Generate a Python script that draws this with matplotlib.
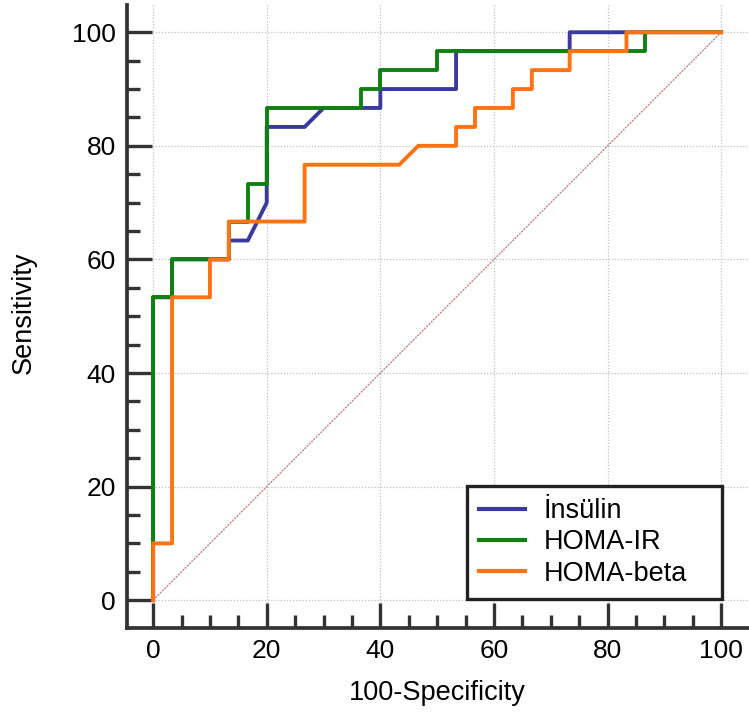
import matplotlib
matplotlib.use("Agg")
import matplotlib.pyplot as plt
from matplotlib.ticker import MultipleLocator

plt.rcParams["font.family"] = ["Liberation Sans", "DejaVu Sans"]

# ROC curve points (100-Specificity, Sensitivity)
insulin_x = [0, 0, 3.33, 3.33, 13.33, 13.33, 16.67, 20, 20, 26.67, 30, 40, 40,
             53.33, 53.33, 73.33, 73.33, 100]
insulin_y = [0, 53.33, 53.33, 60, 60, 63.33, 63.33, 70, 83.33, 83.33, 86.67, 86.67, 90,
             90, 96.67, 96.67, 100, 100]

homa_ir_x = [0, 0, 3.33, 3.33, 13.33, 13.33, 16.67, 16.67, 20, 20, 36.67, 36.67, 40, 40,
             50, 50, 86.67, 86.67, 100]
homa_ir_y = [0, 53.33, 53.33, 60, 60, 66.67, 66.67, 73.33, 73.33, 86.67, 86.67, 90, 90, 93.33,
             93.33, 96.67, 96.67, 100, 100]

homa_beta_x = [0, 0, 3.33, 3.33, 10, 10, 13.33, 13.33, 26.67, 26.67, 43.33, 46.67, 53.33,
               53.33, 56.67, 56.67, 63.33, 63.33, 66.67, 66.67, 73.33, 73.33, 83.33, 83.33, 100]
homa_beta_y = [0, 10, 10, 53.33, 53.33, 60, 60, 66.67, 66.67, 76.67, 76.67, 80, 80,
               83.33, 83.33, 86.67, 86.67, 90, 90, 93.33, 93.33, 96.67, 96.67, 100, 100]

labels = ["İnsülin", "HOMA-IR", "HOMA-beta"]
colors = ["#3a3a9e", "#108010", "#ff7314"]

fig = plt.figure(figsize=(7.49, 7.2), dpi=100)
ax = fig.add_axes([127 / 749, 92 / 720, 622 / 749, 623 / 720])

# reference diagonal
ax.plot([0, 100], [0, 100], color="#c98080", lw=1.0, ls=(0, (1.5, 0.8)), zorder=2)

ax.plot(insulin_x, insulin_y, color=colors[0], lw=2.8, label=labels[0], zorder=3)
ax.plot(homa_ir_x, homa_ir_y, color=colors[1], lw=2.8, label=labels[1], zorder=4)
ax.plot(homa_beta_x, homa_beta_y, color=colors[2], lw=2.8, label=labels[2], zorder=5)

ax.set_xlim(-4.6, 104.9)
ax.set_ylim(-4.9, 104.8)

ax.xaxis.set_major_locator(MultipleLocator(20))
ax.yaxis.set_major_locator(MultipleLocator(20))
ax.xaxis.set_minor_locator(MultipleLocator(5))
ax.yaxis.set_minor_locator(MultipleLocator(5))

ax.grid(True, which="major", color="#c0c0c0", ls=(0, (1, 1.5)), lw=0.9, zorder=1)

for side in ["top", "right"]:
    ax.spines[side].set_visible(False)
for side in ["left", "bottom"]:
    ax.spines[side].set_color("#333333")
    ax.spines[side].set_linewidth(2.7)

ax.tick_params(which="major", direction="in", length=18, width=2.4, color="#333333",
               labelsize=19, pad=8)
ax.tick_params(which="minor", direction="in", length=9.5, width=2.4, color="#333333")

ax.set_xlabel("100-Specificity", fontsize=19.5)
ax.set_ylabel("Sensitivity", fontsize=19.5)
ax.xaxis.set_label_coords((437 - 127) / 622, (628 - 693) / 623)
ax.yaxis.set_label_coords((24 - 127) / 622, (628 - 313) / 623)
ax.xaxis.label.set_va("center")
ax.yaxis.label.set_va("center")

# legend box spans x 467..722 px, bottom at y 599 px
leg = ax.legend(loc="lower left",
                bbox_to_anchor=((467 - 127) / 622, (628 - 599) / 623, (722 - 467) / 622, 0.18),
                mode="expand", borderaxespad=0,
                fontsize=19.5, fancybox=False, framealpha=1, edgecolor="#222222",
                handlelength=1.7, handletextpad=0.67, labelspacing=0.2,
                borderpad=0.45)
leg.get_frame().set_linewidth(2.4)
for line in leg.get_lines():
    line.set_linewidth(3)

fig.savefig("out.png", dpi=100)
